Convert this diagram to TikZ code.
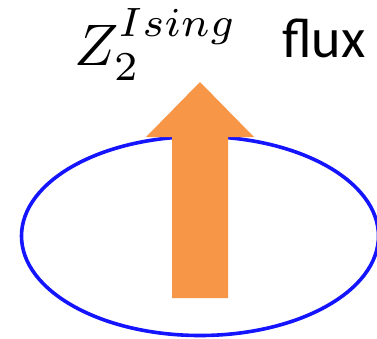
\documentclass[tikz,border=0pt]{standalone}
\usepackage{graphicx}
\usepackage{fontspec}
\newfontfamily\fluxfont{Carlito}
\definecolor{arroworange}{HTML}{F79646}
\definecolor{loopblue}{HTML}{1414FF}
\begin{document}
\begin{tikzpicture}[x=1pt,y=-1pt,
  loop/.style={draw=loopblue,line width=3.6pt},
  fluxarrow/.style={fill=arroworange,draw=none},
  label/.style={inner sep=0pt,anchor=base west}]
\useasboundingbox (0,0) rectangle (377,338);
\draw[loop] (200,236) ellipse [x radius=178.5, y radius=99.5];
\fill[fluxarrow] (172,298) -- (228,298) -- (228,137) -- (254,137) -- (200,82) -- (146,137) -- (172,137) -- cycle;
\node[label] (zlabel) at (74,65) {\scalebox{5.86}{\normalsize$Z_2^{Ising}$}};
\node[label] (fluxlabel) at (282,57) {\fontsize{56}{60}\selectfont\fluxfont flux};
\end{tikzpicture}
\end{document}
